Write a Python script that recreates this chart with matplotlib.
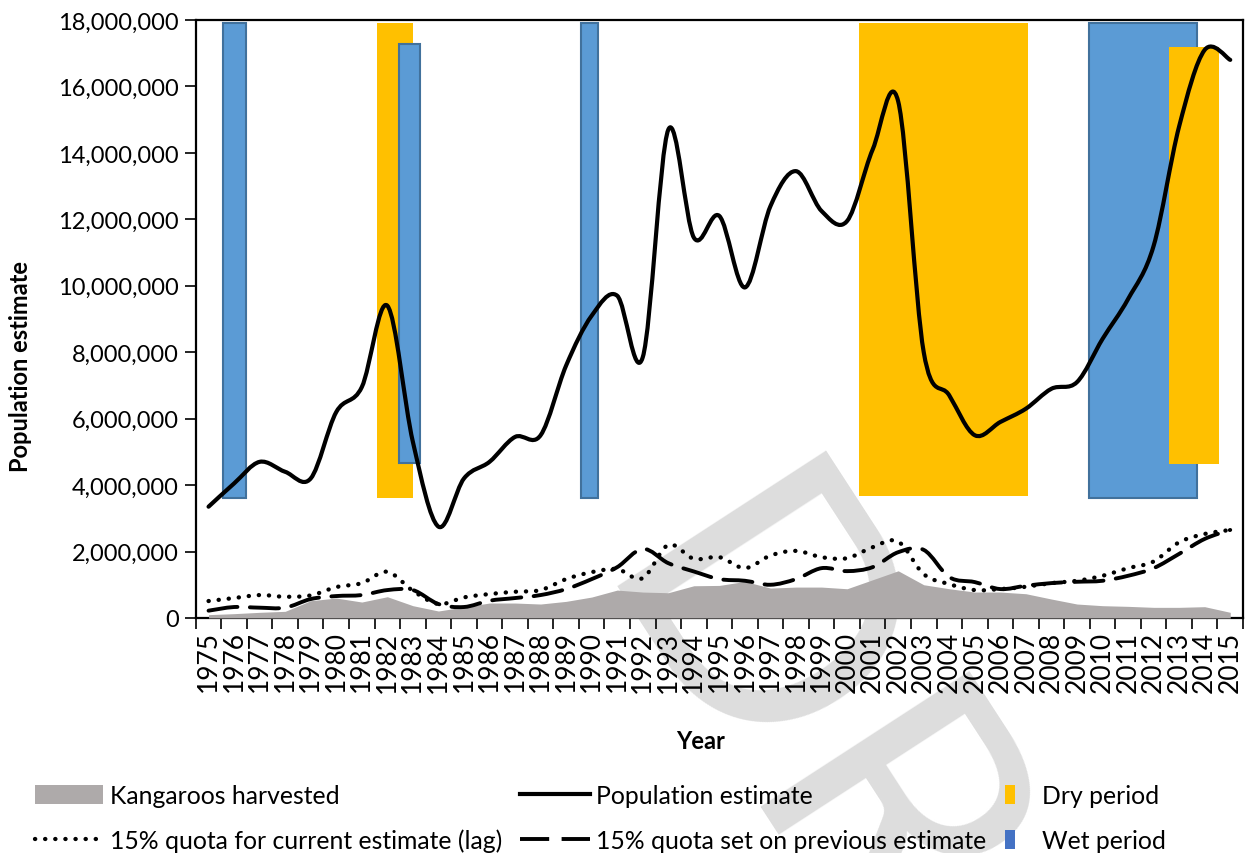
import numpy as np
import matplotlib
matplotlib.use("Agg")
from matplotlib import pyplot as plt
from matplotlib.path import Path
from matplotlib.patches import PathPatch, Patch
from matplotlib.lines import Line2D
from matplotlib.ticker import FuncFormatter, FixedLocator

plt.rcParams['font.family'] = ['Lato', 'DejaVu Sans']

years = list(range(1975, 2016))

# population estimate (millions)
population = [3.35, 4.05, 4.7, 4.4, 4.2, 6.2, 6.95, 9.4, 5.3, 2.75,
              4.2, 4.7, 5.45, 5.5, 7.6, 9.1, 9.7, 7.85, 14.7, 11.45,
              12.1, 9.95, 12.4, 13.45, 12.25, 11.95, 14.1, 15.55, 8.0, 6.7,
              5.5, 5.9, 6.3, 6.9, 7.1, 8.4, 9.6, 11.2, 14.8, 17.1, 16.8]

# kangaroos harvested (millions)
harvested = [0.1, 0.13, 0.17, 0.2, 0.52, 0.6, 0.48, 0.64, 0.37, 0.21,
             0.33, 0.45, 0.45, 0.42, 0.5, 0.63, 0.84, 0.78, 0.76, 0.97,
             0.98, 1.1, 0.9, 0.93, 0.93, 0.88, 1.15, 1.42, 1.0, 0.88,
             0.78, 0.78, 0.73, 0.57, 0.42, 0.37, 0.35, 0.32, 0.32, 0.34, 0.17]

# 15% quota for current estimate (lag), millions
quota_current = [0.51, 0.6, 0.69, 0.64, 0.68, 0.93, 1.05, 1.39, 0.82, 0.42,
                 0.62, 0.72, 0.79, 0.84, 1.17, 1.38, 1.47, 1.2, 2.2, 1.78,
                 1.83, 1.5, 1.88, 2.02, 1.83, 1.8, 2.13, 2.3, 1.32, 1.02,
                 0.84, 0.87, 0.94, 1.05, 1.12, 1.27, 1.5, 1.7, 2.28, 2.53, 2.65]

# 15% quota set on previous estimate, millions
quota_previous = [0.22, 0.33, 0.31, 0.31, 0.57, 0.66, 0.69, 0.84, 0.84, 0.42,
                  0.33, 0.52, 0.6, 0.69, 0.87, 1.17, 1.53, 2.08, 1.65, 1.4,
                  1.17, 1.12, 1.0, 1.17, 1.5, 1.41, 1.53, 1.98, 2.05, 1.23,
                  1.08, 0.87, 0.97, 1.05, 1.09, 1.12, 1.27, 1.5, 1.93, 2.38, 2.65]

# climate periods: (start year, end year, low, high) in millions
dry_periods = [(1981.6, 1983.02, 3.6, 17.9),
               (2000.46, 2007.1, 3.68, 17.9),
               (2012.6, 2014.55, 4.63, 17.19)]
wet_periods = [(1975.56, 1976.46, 3.6, 17.9),
               (1982.47, 1983.26, 4.67, 17.29),
               (1989.57, 1990.23, 3.6, 17.9),
               (2009.47, 2013.68, 3.6, 17.9)]

M = 1e6
DRY = '#FFC000'
WET = '#5B9BD5'
WET_EDGE = '#41719C'
GREY = '#AEAAAA'


def smooth_path(xs, ys):
    # bezier curve through the points, like a smoothed spreadsheet line
    pts = np.column_stack([xs, ys]).astype(float)
    n = len(pts)
    verts = [pts[0]]
    codes = [Path.MOVETO]
    for i in range(n - 1):
        p0 = pts[max(i - 1, 0)]
        p1 = pts[i]
        p2 = pts[i + 1]
        p3 = pts[min(i + 2, n - 1)]
        c1 = p1 + (p2 - p0) / 6.0
        c2 = p2 - (p3 - p1) / 6.0
        verts += [c1, c2, p2]
        codes += [Path.CURVE4] * 3
    return Path(verts, codes)


fig = plt.figure(figsize=(12.47, 8.54), dpi=100)
ax = fig.add_axes([0.157, 0.2752, 0.8398, 0.7002])
ax.set_facecolor('none')

# faint watermark behind the chart
fig.text(0.4686, 0.315, 'DRAFT', rotation=-57, rotation_mode='anchor',
         fontsize=250, color='#DDDDDD', ha='left', va='baseline', zorder=-5)

# dry / wet bars
def draw_periods(periods, face, edge):
    for (x0, x1, lo, hi) in periods:
        ax.bar(x0, (hi - lo) * M, width=x1 - x0, bottom=lo * M, align='edge',
               color=face, edgecolor=edge if edge else face,
               linewidth=1.5 if edge else 0, zorder=2)

draw_periods(dry_periods[:1], DRY, None)
draw_periods(wet_periods[:2], WET, WET_EDGE)
draw_periods(dry_periods[1:2], DRY, None)
draw_periods(wet_periods[2:], WET, WET_EDGE)
draw_periods(dry_periods[2:], DRY, None)

yrs = np.array(years, dtype=float)
ax.fill_between(yrs, 0, np.array(harvested) * M, color=GREY, linewidth=0, zorder=3)

ax.add_patch(PathPatch(smooth_path(yrs, np.array(quota_current) * M), fill=False,
                       edgecolor='black', linewidth=3.1, linestyle=(0, (0.05, 2.3)),
                       capstyle='round', zorder=4))
ax.add_patch(PathPatch(smooth_path(yrs, np.array(quota_previous) * M), fill=False,
                       edgecolor='black', linewidth=2.8, linestyle=(0, (7.5, 3.2)),
                       capstyle='round', zorder=4))
ax.add_patch(PathPatch(smooth_path(yrs, np.array(population) * M), fill=False,
                       edgecolor='black', linewidth=3.0, capstyle='round',
                       joinstyle='round', zorder=5))

ax.set_xlim(1974.5, 2015.5)
ax.set_ylim(0, 18 * M)
ax.set_yticks(np.arange(0, 18.1, 2) * M)
ax.yaxis.set_major_formatter(FuncFormatter(lambda v, p: f'{v:,.0f}'))
ax.set_xticks(years)
ax.set_xticklabels([str(y) for y in years], rotation=90, fontsize=19)
ax.xaxis.set_minor_locator(FixedLocator(np.arange(1974.5, 2016, 1)))
ax.tick_params(axis='x', which='major', length=0, pad=9)
ax.tick_params(axis='x', which='minor', length=8, width=1.2, direction='out')
ax.tick_params(axis='y', length=8, width=1.2, labelsize=17, pad=4)
for s in ax.spines.values():
    s.set_linewidth(1.6)

ax.set_xlabel('Year', fontsize=17, fontweight='bold')
ax.xaxis.set_label_coords(0.482, -0.186)
ax.set_ylabel('Population estimate', fontsize=17, fontweight='bold')
ax.yaxis.set_label_coords(-0.156, 0.423)

h_harv = Patch(facecolor=GREY, edgecolor='none')
h_pop = Line2D([], [], color='black', linewidth=3.0)
h_cur = Line2D([], [], color='black', linewidth=3.1, linestyle=(0, (0.05, 2.3)),
               dash_capstyle='round')
h_prev = Line2D([], [], color='black', linewidth=2.8, linestyle=(0, (7.5, 3.2)))
h_dry = Patch(facecolor=DRY, edgecolor='none')
h_wet = Patch(facecolor='#4472C4', edgecolor='none')

leg_kw = dict(frameon=False, fontsize=17.8, labelspacing=0.87, handleheight=0.8,
              borderaxespad=0, borderpad=0, loc='upper left')
fig.legend([h_harv, h_cur], ['Kangaroos harvested', '15% quota for current estimate (lag)'],
           bbox_to_anchor=(0.028, 0.0805), handlelength=2.75, handletextpad=0.28, **leg_kw)
fig.legend([h_pop, h_prev], ['Population estimate', '15% quota set on previous estimate'],
           bbox_to_anchor=(0.417, 0.0805), handlelength=2.83, handletextpad=0.25, **leg_kw)
fig.legend([h_dry, h_wet], ['Dry period', 'Wet period'],
           bbox_to_anchor=(0.806, 0.0805), handlelength=0.4, handletextpad=1.1, **leg_kw)

fig.savefig('out.png', dpi=100)
